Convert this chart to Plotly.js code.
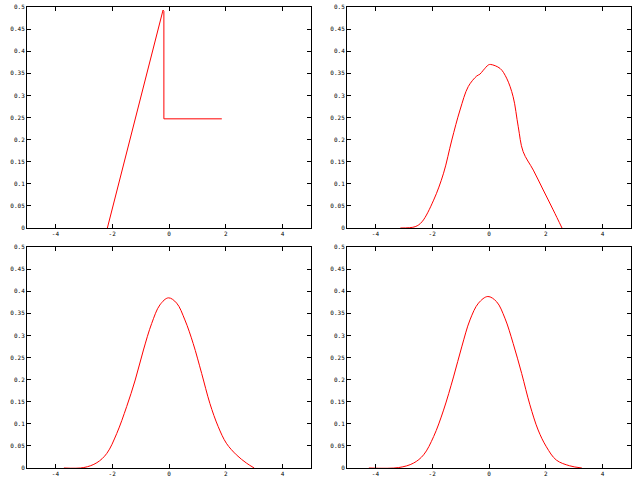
<!DOCTYPE html>
<html>
<head>
<meta charset="utf-8">
<script src="https://cdn.plot.ly/plotly-3.0.1.min.js"></script>
<style>html,body{margin:0;padding:0;background:#fff;}#chart{width:640px;height:480px;}</style>
</head>
<body>
<div id="chart"></div>
<script>
// Panel 1 (top-left): piecewise linear
const x1 = [-2.17, -0.21, -0.18, -0.18, 1.86];
const y1 = [0.0, 0.493, 0.49, 0.247, 0.247];

// Panel 2 (top-right)
const x2 = [-3.12, -2.6, -2.36, -1.95, -1.6, -1.31, -1.02, -0.73, -0.43, -0.32, -0.2, -0.02, 0.06, 0.39, 0.62, 0.85, 1.03, 1.2, 1.56, 1.91, 2.26, 2.57];
const y2 = [0.0, 0.003, 0.014, 0.063, 0.124, 0.199, 0.267, 0.32, 0.344, 0.348, 0.357, 0.369, 0.37, 0.361, 0.339, 0.297, 0.229, 0.173, 0.131, 0.086, 0.041, 0.0];

// Panel 3 (bottom-left)
const x3 = [-3.7, -3.0, -2.54, -2.19, -1.84, -1.49, -1.19, -0.9, -0.61, -0.32, -0.02, 0.27, 0.56, 0.85, 1.15, 1.44, 1.73, 2.02, 2.37, 2.73, 3.0];
const y3 = [0.0, 0.001, 0.012, 0.033, 0.078, 0.139, 0.199, 0.267, 0.327, 0.369, 0.385, 0.373, 0.335, 0.282, 0.214, 0.146, 0.094, 0.056, 0.03, 0.011, 0.0];

// Panel 4 (bottom-right)
const x4 = [-4.23, -3.18, -2.66, -2.3, -1.95, -1.6, -1.25, -0.96, -0.67, -0.37, -0.04, 0.27, 0.56, 0.85, 1.15, 1.44, 1.73, 2.02, 2.37, 2.84, 3.27];
const y4 = [0.0, 0.001, 0.011, 0.03, 0.071, 0.131, 0.206, 0.274, 0.335, 0.373, 0.388, 0.376, 0.339, 0.282, 0.214, 0.143, 0.086, 0.048, 0.018, 0.005, 0.0];

const xTickVals = [-4, -2, 0, 2, 4];
const xTickText = ["-4", "-2", "0", "2", "4"];
const yTickVals = [0, 0.05, 0.1, 0.15, 0.2, 0.25, 0.3, 0.35, 0.4, 0.45, 0.5];
const yTickText = ["0", "0.05", "0.1", "0.15", "0.2", "0.25", "0.3", "0.35", "0.4", "0.45", "0.5"];

const lineStyle = {color: '#ff0000', width: 1};
const traces = [
  {x: x1, y: y1, xaxis: 'x', yaxis: 'y', mode: 'lines', line: Object.assign({shape: 'linear'}, lineStyle)},
  {x: x2, y: y2, xaxis: 'x2', yaxis: 'y2', mode: 'lines', line: Object.assign({shape: 'spline', smoothing: 1}, lineStyle)},
  {x: x3, y: y3, xaxis: 'x3', yaxis: 'y3', mode: 'lines', line: Object.assign({shape: 'spline', smoothing: 1}, lineStyle)},
  {x: x4, y: y4, xaxis: 'x4', yaxis: 'y4', mode: 'lines', line: Object.assign({shape: 'spline', smoothing: 1}, lineStyle)}
];

const tickFont = {family: 'DejaVu Sans Mono, monospace', size: 6, color: '#000'};
function xa(dom, anchor) {
  return {domain: dom, anchor: anchor, range: [-5, 5], tickvals: xTickVals, ticktext: xTickText,
    ticks: 'inside', ticklen: 4, tickcolor: '#000', mirror: 'ticks', showline: true, linecolor: '#000', linewidth: 1,
    showgrid: false, zeroline: false, tickfont: tickFont, fixedrange: true};
}
function ya(dom, anchor) {
  return {domain: dom, anchor: anchor, range: [0, 0.5], tickvals: yTickVals, ticktext: yTickText,
    ticks: 'inside', ticklen: 4, tickcolor: '#000', mirror: 'ticks', showline: true, linecolor: '#000', linewidth: 1,
    showgrid: false, zeroline: false, tickfont: tickFont, fixedrange: true};
}
const L = [27/640, 311/640], R = [347/640, 631/640];
const T = [1 - 228/480, 1 - 7/480], B = [1 - 468/480, 1 - 247/480];
const layout = {
  width: 640, height: 480, margin: {l: 0, r: 0, t: 0, b: 0},
  paper_bgcolor: '#fff', plot_bgcolor: '#fff', showlegend: false,
  xaxis: xa(L, 'y'), yaxis: ya(T, 'x'),
  xaxis2: xa(R, 'y2'), yaxis2: ya(T, 'x2'),
  xaxis3: xa(L, 'y3'), yaxis3: ya(B, 'x3'),
  xaxis4: xa(R, 'y4'), yaxis4: ya(B, 'x4')
};
Plotly.newPlot('chart', traces, layout, {displayModeBar: false, staticPlot: true});
</script>
</body>
</html>
